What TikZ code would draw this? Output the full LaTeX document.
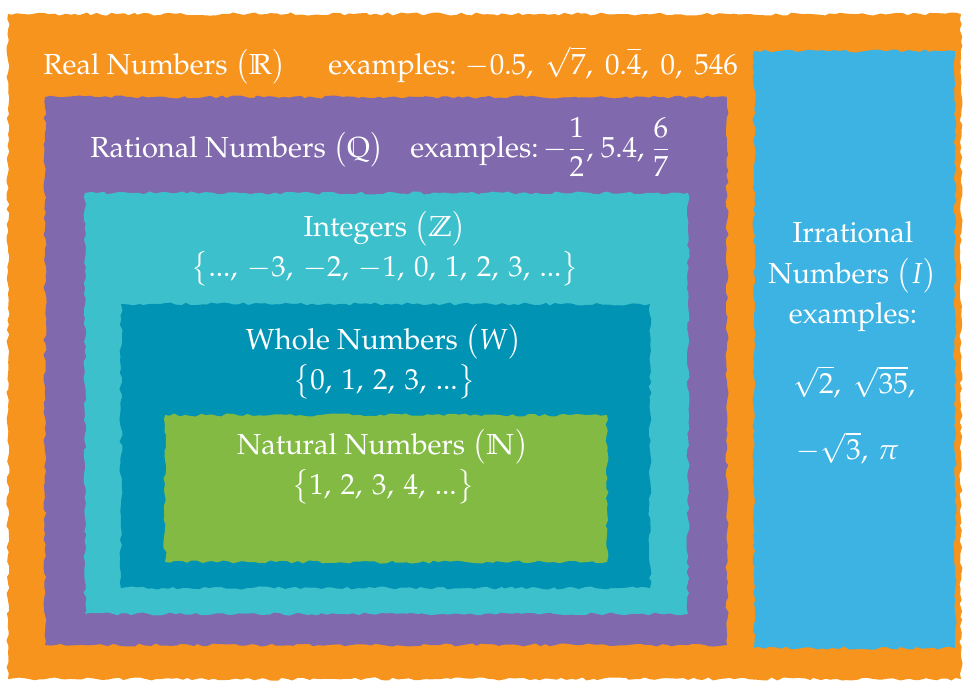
\documentclass[tikz,border=0pt]{standalone}
\usepackage{amsmath,amssymb}
\usepackage[T1]{fontenc}
\usepackage{mathpazo}
\usetikzlibrary{decorations.pathmorphing}

\definecolor{realC}{HTML}{F7941E}
\definecolor{ratC}{HTML}{8069AC}
\definecolor{intC}{HTML}{3CC0CC}
\definecolor{wholeC}{HTML}{0093B4}
\definecolor{natC}{HTML}{82BA43}
\definecolor{irrC}{HTML}{3DB3E3}

\begin{document}
\begin{tikzpicture}[x=0.02cm,y=-0.02cm]

\tikzset{torn/.style = {decorate, decoration={random steps, segment length=3pt, amplitude=0.9pt}}}
\tikzset{lbl/.style = {text=white, inner sep=0pt, font=\fontsize{16.5}{19}\selectfont}}
\tikzset{setlbl/.style = {lbl, align=center}}
\useasboundingbox (0,0) rectangle (965,683);
% sets
\fill[realC, torn] (8,14) rectangle (961,679);
\fill[irrC, torn] (754,51) rectangle (955,648);
\fill[ratC, torn] (45,97) rectangle (727,645);
\fill[intC, torn] (85,193) rectangle (688,614);
\fill[wholeC, torn] (121,304) rectangle (650,588);
\fill[natC, torn] (165,415) rectangle (607,562);
% labels
\node[lbl, anchor=base west] (real) at (43,74) {Real Numbers $\bigl(\mathbb{R}\bigr)$};
\node[lbl, anchor=base west] (realex) at (328,74)
  {examples: $-0.5,\ \sqrt{7},\ 0.\overline{4},\ 0,\ 546$};
\node[lbl, anchor=base west] (rat) at (90,157) {Rational Numbers $\bigl(\mathbb{Q}\bigr)$};
\node[lbl, anchor=base west] (ratex) at (410,157)
  {examples:\,$-\dfrac{1}{2}$, 5.4, $\dfrac{6}{7}$};
\node[setlbl] (int) at (385,249)
  {Integers $\bigl(\mathbb{Z}\bigr)$\\[1pt]
   $\bigl\{\text{...},\,-3,\,-2,\,-1,\,0,\,1,\,2,\,3,\,\text{...}\bigr\}$};
\node[setlbl] (whole) at (384,362)
  {Whole Numbers $\bigl(W\bigr)$\\[1pt] $\bigl\{0,\,1,\,2,\,3,\,\text{...}\bigr\}$};
\node[setlbl] (nat) at (383,467)
  {Natural Numbers $\bigl(\mathbb{N}\bigr)$\\[1pt] $\bigl\{1,\,2,\,3,\,4,\,\text{...}\bigr\}$};
\node[lbl, align=center] (irr) at (853,277)
  {Irrational\\[4pt] Numbers $\bigl(I\bigr)$\\[4pt] examples:};
\node[lbl, anchor=west] (irr1) at (793,382) {$\sqrt{2},\ \sqrt{35},$};
\node[lbl, anchor=west] (irr2) at (796,448) {$-\sqrt{3},\,\pi$};
\end{tikzpicture}
\end{document}
